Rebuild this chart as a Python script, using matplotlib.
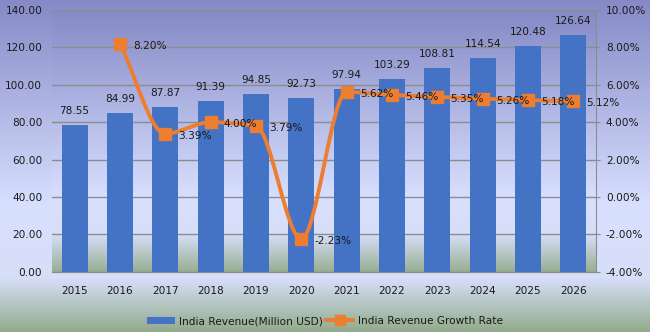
"""India revenue bar chart with growth-rate line on a secondary axis"""
import numpy as np
import matplotlib.pyplot as plt
from matplotlib.colors import LinearSegmentedColormap
from matplotlib.lines import Line2D
from matplotlib.patches import Patch, PathPatch
from matplotlib.path import Path

years = ['2015', '2016', '2017', '2018', '2019', '2020',
         '2021', '2022', '2023', '2024', '2025', '2026']
revenue = [78.55, 84.99, 87.87, 91.39, 94.85, 92.73,
           97.94, 103.29, 108.81, 114.54, 120.48, 126.64]
growth_years = years[1:]
growth = [8.20, 3.39, 4.00, 3.79, -2.23, 5.62, 5.46, 5.35, 5.26, 5.18, 5.12]

BAR_COLOR = '#4472C4'
LINE_COLOR = '#ED7D31'
TEXT_COLOR = '#1a1a1a'
GRID_COLOR = '#8c8c8c'
FS = 7.6


def gradient(stops):
    return LinearSegmentedColormap.from_list('bg', stops)


def smooth_path(xs, ys):
    """Bezier path through the points, monotone tangents (no overshoot)."""
    h = np.diff(xs)
    d = np.diff(ys) / h
    m = np.zeros_like(ys)
    m[0], m[-1] = d[0], d[-1]
    for i in range(1, len(ys) - 1):
        if d[i - 1] * d[i] > 0:
            m[i] = 2 / (1 / d[i - 1] + 1 / d[i])
    verts = [(xs[0], ys[0])]
    codes = [Path.MOVETO]
    for i in range(len(xs) - 1):
        verts += [(xs[i] + h[i] / 3, ys[i] + m[i] * h[i] / 3),
                  (xs[i + 1] - h[i] / 3, ys[i + 1] - m[i + 1] * h[i] / 3),
                  (xs[i + 1], ys[i + 1])]
        codes += [Path.CURVE4] * 3
    return Path(verts, codes)


fig = plt.figure(figsize=(6.5, 3.32), dpi=100)

# figure background gradient (top purple -> light -> greenish bottom)
bg = fig.add_axes([0, 0, 1, 1], zorder=-10)
bg.imshow(np.linspace(0, 1, 256).reshape(-1, 1), aspect='auto',
          cmap=gradient([(0, '#8589C6'), (0.62, '#D8E0FF'),
                         (0.84, '#D6DEF8'), (1, '#93AB8C')]),
          extent=[0, 1, 0, 1], origin='upper')
bg.axis('off')

ax = fig.add_axes([0.08, 0.181, 0.837, 0.789])
ax.set_facecolor('none')
ax.imshow(np.linspace(0, 1, 256).reshape(-1, 1), aspect='auto',
          cmap=gradient([(0, '#8589C6'), (0.72, '#D8E0FF'),
                         (0.86, '#D6DEF8'), (1, '#98AE92')]),
          extent=[0, 1, 0, 1], origin='upper', transform=ax.transAxes,
          zorder=0)

x = np.arange(len(years))
bars = ax.bar(x, revenue, width=0.57, color=BAR_COLOR, zorder=2)
for xi, v in zip(x, revenue):
    ax.annotate(f'{v:.2f}', (xi, v), xytext=(0, 9), textcoords='offset pixels',
                ha='center', va='bottom', fontsize=FS, color=TEXT_COLOR,
                zorder=5)

ax.set_xlim(-0.5, len(years) - 0.5)
ax.set_ylim(0, 140)
ax.set_yticks(np.arange(0, 141, 20))
ax.set_yticklabels([f'{t:.2f}' for t in np.arange(0, 141, 20)])
ax.set_xticks(x)
ax.set_xticklabels(years)
ax.yaxis.grid(True, color=GRID_COLOR, linewidth=1.0, zorder=1)
ax.set_axisbelow(True)
ax.tick_params(axis='x', length=0, pad=10, labelsize=FS, colors=TEXT_COLOR)
ax.tick_params(axis='y', length=0, pad=7, labelsize=FS, colors=TEXT_COLOR)
for side in ('top', 'left', 'right'):
    ax.spines[side].set_visible(False)
ax.spines['bottom'].set_color(GRID_COLOR)

# growth rate on the secondary axis, drawn as a smoothed line
ax2 = ax.twinx()
ax2.set_ylim(-4, 10)
ax2.set_yticks(np.arange(-4, 10.1, 2))
ax2.set_yticklabels([f'{t:.2f}%' for t in np.arange(-4, 10.1, 2)])
ax2.tick_params(axis='y', length=3, pad=4, labelsize=FS, colors=TEXT_COLOR,
                color=GRID_COLOR)
for side in ('top', 'left', 'bottom'):
    ax2.spines[side].set_visible(False)
ax2.spines['right'].set_color(GRID_COLOR)

gx = np.array([years.index(y) for y in growth_years], dtype=float)
gy = np.array(growth)
ax2.add_patch(PathPatch(smooth_path(gx, gy), facecolor='none',
                        edgecolor=LINE_COLOR, linewidth=2.8, zorder=3,
                        capstyle='round', joinstyle='round'))
ax2.plot(gx, gy, linestyle='none', marker='s', markersize=9,
         color=LINE_COLOR, zorder=4)
for xi, v in zip(gx, gy):
    ax2.annotate(f'{v:.2f}%', (xi, v), xytext=(13, -2),
                 textcoords='offset pixels', ha='left', va='center',
                 fontsize=FS, color=TEXT_COLOR, zorder=5)

handles = [Patch(facecolor=BAR_COLOR, label='India Revenue(Million USD)'),
           Line2D([], [], color=LINE_COLOR, linewidth=2.8, marker='s',
                  markersize=7, label='India Revenue Growth Rate')]
fig.legend(handles=handles, loc='center', bbox_to_anchor=(0.5, 0.033),
           ncol=2, frameon=False, fontsize=FS, handlelength=2.6,
           handletextpad=0.4, columnspacing=0.3, labelcolor=TEXT_COLOR)

fig.savefig('out.png', dpi=100)
